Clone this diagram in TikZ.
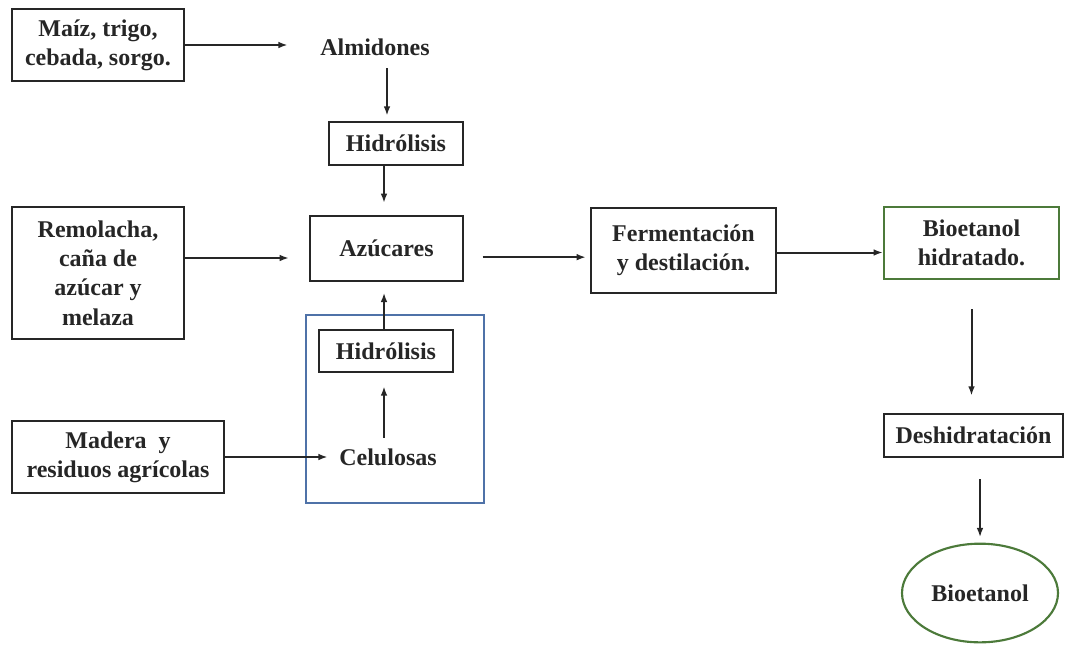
\documentclass[tikz,border=0pt]{standalone}
\usepackage{fontspec}
\setmainfont{Liberation Serif}
\usetikzlibrary{arrows.meta,shapes.geometric}
\definecolor{ink}{HTML}{262626}
\definecolor{boxblue}{HTML}{4F72A8}
\definecolor{boxgreen}{HTML}{4C7A3A}
\tikzset{
  every node/.style={font=\fontsize{18}{22}\selectfont\bfseries, text=ink, align=center, inner sep=2pt},
  pbox/.style={draw=ink, line width=1.5pt, rectangle},
  gbox/.style={draw=boxgreen, line width=1.6pt, rectangle},
  bbox/.style={draw=boxblue, line width=1.2pt, rectangle},
  plain/.style={rectangle},
  arr/.style={draw=ink, line width=1.5pt, -{Latex[length=7pt,width=5pt]}},
}
\begin{document}
\begin{tikzpicture}[x=0.75pt,y=-0.75pt]
\useasboundingbox (0,0) rectangle (1066,644);
% blue enclosure
\node[bbox, minimum width=133.5pt, minimum height=141pt] (cellbox) at (395,409) {};
% nodes
\node[pbox, minimum width=129pt, minimum height=54pt] (m1) at (98,45) {Maíz, trigo,\\cebada, sorgo.};
\node[plain, minimum width=130.5pt, minimum height=31.5pt] (alm) at (375,47) {Almidones};
\node[pbox, minimum width=100.5pt, minimum height=32.25pt] (h1) at (396,143.5) {Hidrólisis};
\node[pbox, minimum width=114.75pt, minimum height=48.75pt] (az) at (386.5,248.5) {Azúcares};
\node[pbox, minimum width=129pt, minimum height=99pt] (rem) at (98,273) {Remolacha,\\caña de\\azúcar y\\melaza};
\node[pbox, fill=white, minimum width=100.5pt, minimum height=31.5pt] (h2) at (386,351) {Hidrólisis};
\node[plain, minimum width=90pt, minimum height=28.5pt] (cel) at (388,457) {Celulosas};
\node[pbox, minimum width=159pt, minimum height=54pt] (mad) at (118,457) {Madera~ y\\residuos agrícolas};
\node[pbox, minimum width=138.75pt, minimum height=63.75pt] (fer) at (683.5,250.5) {Fermentación\\y destilación.};
\node[gbox, minimum width=131.25pt, minimum height=54pt] (bh) at (971.5,243) {Bioetanol\\hidratado.};
\node[pbox, minimum width=134.25pt, minimum height=32.25pt] (des) at (973.5,435.5) {Deshidratación};
\node[ellipse, draw=boxgreen, line width=1.6pt, minimum width=117pt, minimum height=74pt, inner sep=0pt] (bio) at (980,593) {Bioetanol};
% connectors
\draw[arr] (m1.east) -- (m1.east -| alm.west);
\draw[arr, shorten >=4pt] (alm.south -| h1.north) ++(-9,0) coordinate (a1) -- (a1 |- h1.north);
\draw[arr, shorten >=9pt] ([xshift=-9pt]h1.south) -- ([xshift=-9pt]h1.south |- az.north);
\draw[arr, shorten >=15pt] ([yshift=11.25pt]rem.east) -- ([yshift=11.25pt]rem.east -| az.west);
\draw[arr, shorten <=14pt, shorten >=3pt] ([yshift=-5pt]fer.west -| az.east) -- ([yshift=-5pt]fer.west);
\draw[arr] (fer.east) ++(0,2) coordinate (f1) -- (f1 -| bh.west);
\draw[arr, shorten <=22pt, shorten >=13pt] (bh.south) -- (bh.south |- des.north);
\draw[arr, shorten <=16pt, shorten >=4pt] (bio.north |- des.south) -- (bio.north);
\draw[arr, shorten >=8pt] ([xshift=-1.5pt]h2.north) -- ([xshift=-1.5pt]h2.north |- az.south);
\draw[arr, shorten >=10pt] ([xshift=-3pt]cel.north) -- ([xshift=-3pt]cel.north |- h2.south);
\draw[arr] (mad.east) -- (cel.west);
\end{tikzpicture}
\end{document}
